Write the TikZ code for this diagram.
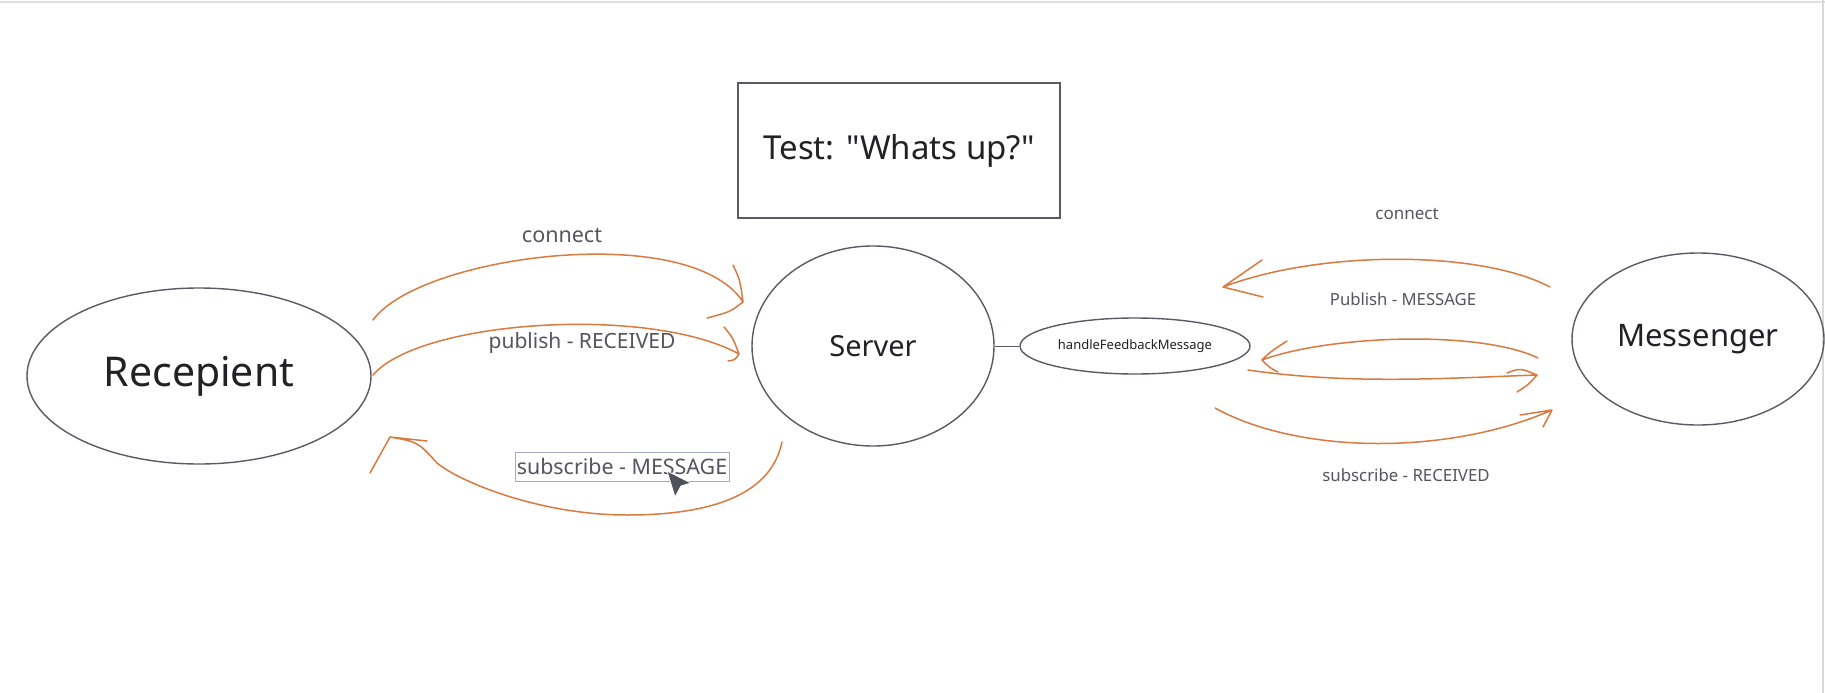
\documentclass[tikz,border=0pt]{standalone}
\usepackage{fontspec}
\newfontfamily\nf{Noto Sans}
\usetikzlibrary{shapes.geometric}
\definecolor{ink}{HTML}{5A5A66}
\definecolor{txt}{HTML}{55555F}
\definecolor{big}{HTML}{222226}
\definecolor{orng}{HTML}{D97A40}
\definecolor{sel}{HTML}{A4A8CC}
\tikzset{
  every node/.style={font=\nf},
  shapeline/.style={draw=ink, line width=1.4pt},
  oval/.style={shapeline, ellipse, inner sep=0pt},
  lbl/.style={text=txt, inner sep=0pt},
  arr/.style={draw=orng, line width=1.5pt, line cap=round, line join=round},
}
\newcommand{\fs}[1]{\fontsize{#1}{#1}\selectfont}
\begin{document}
\begin{tikzpicture}[x=1pt,y=-1pt]
\useasboundingbox[fill=white] (0,0) rectangle (1825,693);
\draw[draw=black!12, line width=1.5pt] (0,2) -- (1825,2);
\draw[draw=black!15, line width=1.5pt] (1823,0) -- (1823,693);

% nodes
\node[oval, minimum width=344pt, minimum height=176pt] (rec) at (199,376) {};
\node[text=big] at (rec.center) {\fs{41}Recepient};
\node[oval, minimum width=242pt, minimum height=200pt] (srv) at (873,346) {};
\node[text=big] at (srv.center) {\fs{29}Server};
\node[oval, minimum width=230pt, minimum height=56pt] (hfm) at (1135,346) {};
\node[text=big] at (hfm.center) {\fs{13}handleFeedbackMessage};
\node[oval, minimum width=252pt, minimum height=172pt] (msg) at (1698,339) {};
\node[text=big] at (msg.center) {\fs{31}Messenger};
\node[shapeline, rectangle, minimum width=322pt, minimum height=135pt, inner sep=0pt] (test) at (899,150.5) {};
\node[text=big] at (test.center) {\fs{33}Test: "Whats up?"};

\draw[draw=ink, line width=1pt] (srv.east) -- (hfm.west);

% labels
\node[lbl] (l1) at (562,236) {\fs{21.5}connect};
\node[lbl] (l2) at (582,343) {\fs{21}publish - RECEIVED};
\node[lbl, draw=sel, line width=1pt, minimum width=214pt, minimum height=29pt] (l3) at (622,466.5) {\fs{21.4}subscribe - MESSAGE};
\node[lbl] (r1) at (1407,214) {\fs{17}connect};
\node[lbl] (r2) at (1403,299) {\fs{16.7}Publish - MESSAGE};
\node[lbl] (r3) at (1406,475) {\fs{16.8}subscribe - RECEIVED};

% mouse cursor
\filldraw[fill=ink!90!black, draw=white, line width=0.8pt] (667,471) -- (691,483) -- (681,486) -- (675,497) -- cycle;

% connector end points
\coordinate (a1s) at (373,320); \coordinate (a1t) at (743,302);
\coordinate (a2s) at (373,375); \coordinate (a2t) at (739,354);
\coordinate (a3s) at (782,442); \coordinate (a3t) at (390,437);
\coordinate (b1s) at (1550,287); \coordinate (b1t) at (1223,287);
\coordinate (b2s) at (1538,358); \coordinate (b2t) at (1262,360);
\coordinate (b3s) at (1248,370); \coordinate (b3t) at (1537,375);
\coordinate (b4s) at (1215,408); \coordinate (b4t) at (1552,410);

% left arrows
\draw[arr] (a1s) .. controls (420,255) and (690,220) .. (a1t)
  (733,265) .. controls (740,280) .. (a1t) .. controls (730,312) .. (707,318);
\draw[arr] (a2s) .. controls (420,320) and (650,305) .. (a2t)
  (724,327) .. controls (733,338) .. (a2t) .. controls (735,360) .. (728,361);
\draw[arr] (a3s) .. controls (770,500) and (700,515) .. (627,515)
  .. controls (540,515) and (460,482) .. (437,463)
  .. controls (418,442) .. (a3t)
  (370,473) -- (a3t) -- (427,441);

% right arrows
\draw[arr] (b1s) .. controls (1480,250) and (1320,250) .. (b1t)
  (1262,260) -- (b1t) -- (1263,297);
\draw[arr] (b2s) .. controls (1480,330) and (1330,335) .. (b2t)
  (1287,341) .. controls (1270,352) .. (b2t) .. controls (1270,368) .. (1278,372);
\draw[arr] (b3s) .. controls (1350,385) and (1450,378) .. (b3t)
  (1507,373) .. controls (1520,368) .. (b3t) .. controls (1528,385) .. (1517,392);
\draw[arr] (b4s) .. controls (1300,455) and (1450,455) .. (b4t)
  (1520,415) -- (b4t) -- (1543,427);
\end{tikzpicture}
\end{document}
